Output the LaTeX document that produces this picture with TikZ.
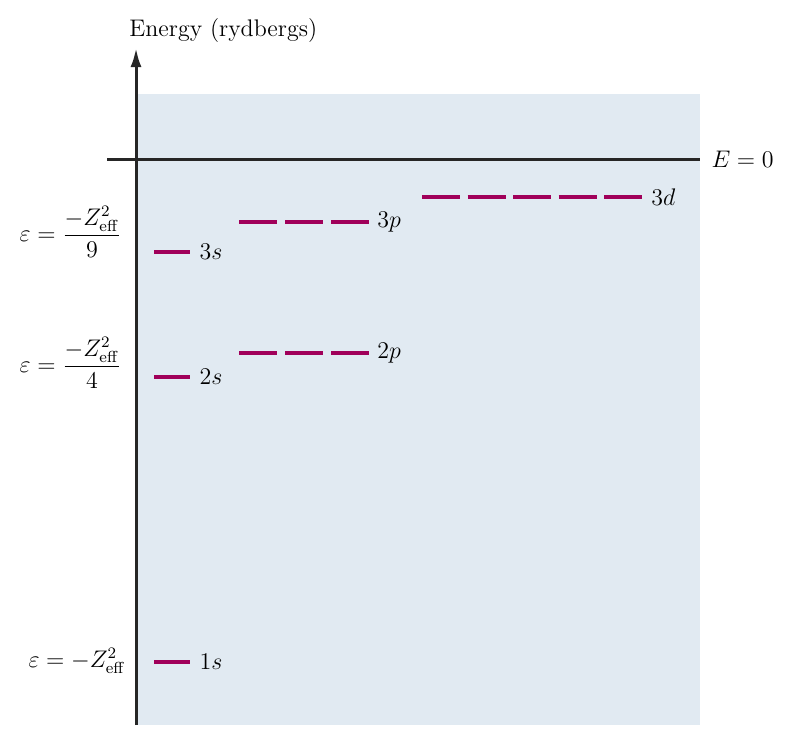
\documentclass[tikz,border=0pt]{standalone}
\usepackage{amsmath, amssymb}
\usepackage{tikz}
\usetikzlibrary{
  arrows.meta,%
  positioning,%
  calc
}
\definecolor{panelblue}{RGB}{225,234,242}
\definecolor{orbital}{RGB}{160,0,90}
\tikzset{>={Latex[length=9.5pt,width=5.5pt]}}
\tikzset{font=\large}
\tikzset{level/.style={draw=orbital, line width=1.6pt},
  axisline/.style={draw=black!85, line width=1.5pt},
  levellabel/.style={right, inner sep=4pt},
  eqlabel/.style={anchor=east, inner sep=0pt}}

\begin{document}
\begin{tikzpicture}[x=0.5pt, y=-0.5pt]
  \useasboundingbox (0,0) rectangle (808,750);
  % shaded panel
  \fill[panelblue] (136,94) rectangle (700,725);
  % axes
  \coordinate (origin) at (136,725);
  \coordinate (top) at (136,48);
  \coordinate (zeroL) at (107,159);
  \coordinate (zeroR) at (700,159);
  \draw[axisline,->] (origin) -- (top);
  \node[anchor=west, inner sep=0pt] (ylabel) at (129,31) {Energy (rydbergs)};
  \draw[axisline] (zeroL) -- (zeroR) node[right, inner sep=5pt] (zerolabel) {$E = 0$};
  % s levels
  \foreach \n/\y in {1/662, 2/377, 3/252}
    \draw[level] (154,\y) -- (190,\y) node[levellabel] (s\n) {$\n s$};
  % p levels
  \foreach \n/\y in {2/353, 3/222} {
    \foreach \i in {0,1,2}
      \draw[level] (239+46*\i,\y) -- ++(38,0);
    \node[levellabel] (p\n) at (369,\y) {$\n p$};
  }
  % d level
  \foreach \i in {0,...,4}
    \draw[level] (422+45.5*\i,197) -- ++(38,0);
  \node[levellabel] (d3) at (643,197) {$3d$};
  % energies
  \node[eqlabel] (e3) at (122,232) {$\varepsilon = \dfrac{-Z_{\mathrm{eff}}^2}{9}$};
  \node[eqlabel] (e2) at (122,363) {$\varepsilon = \dfrac{-Z_{\mathrm{eff}}^2}{4}$};
  \node[eqlabel] (e1) at (126,661) {$\varepsilon = -Z_{\mathrm{eff}}^2$};
\end{tikzpicture}
\end{document}
